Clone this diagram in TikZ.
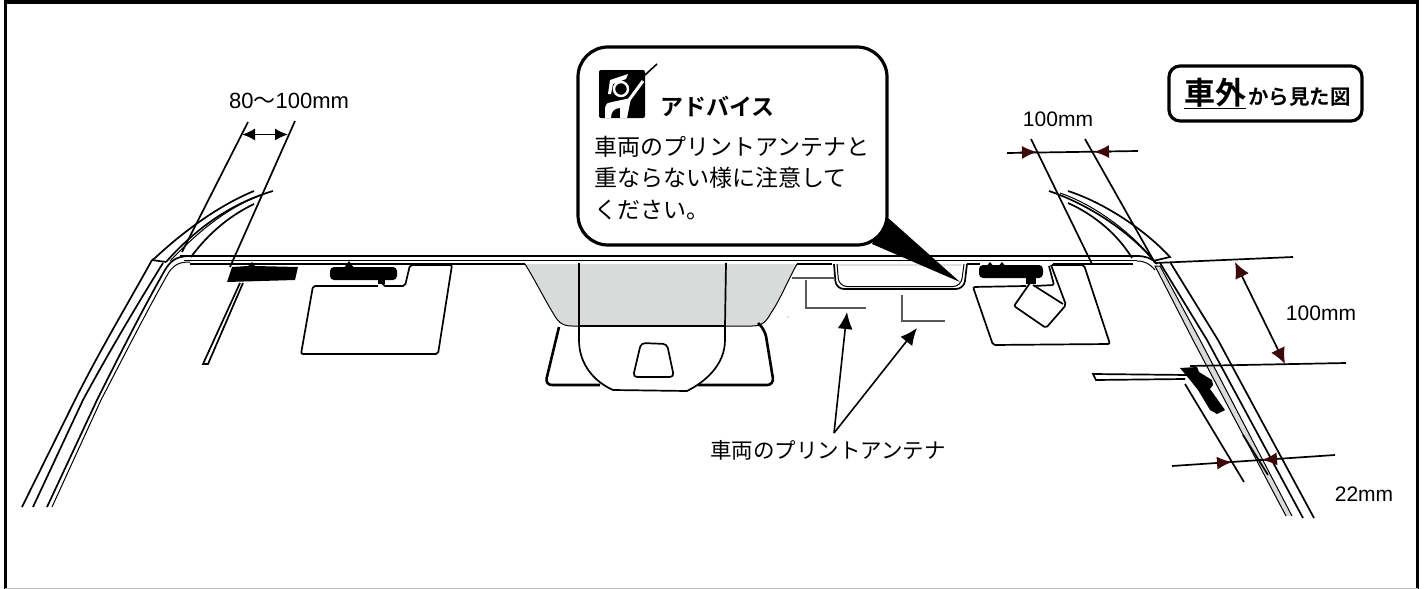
\documentclass[tikz,border=0pt]{standalone}
\usepackage{fontspec}
\setmainfont{Liberation Sans}
\newfontfamily\cjk[BoldFont={Noto Sans CJK JP Bold}]{Noto Sans CJK JP}
\usetikzlibrary{arrows.meta}
\definecolor{dimred}{RGB}{60,8,12}
\definecolor{glassgray}{RGB}{217,218,218}
\tikzset{
	glass/.style={line width=1.7pt,black},
	hairline/.style={line width=1pt,black},
	heavy/.style={line width=2.6pt,black},
	antenna/.style={line width=1.5pt,black!65},
	dimline/.style={line width=1.7pt,black},
	dimtip/.style={-{Latex[length=15pt,width=13pt,color=dimred]},line width=1.7pt},
	dimlabel/.style={font=\fontsize{21}{21}\selectfont,inner sep=0pt},
	bubble/.style={draw,line width=3.2pt,rounded corners=30pt,fill=white},
	tag/.style={draw,line width=3.2pt,rounded corners=11pt,fill=white}
}
\begin{document}
\begin{tikzpicture}[x=1pt,y=-1pt]
	\useasboundingbox (0,0) rectangle (1428,589);
	\fill[white] (0,0) rectangle (1428,589);
	% frame
	\draw[line width=3.4pt] (5.5,589) -- (5.5,2) -- (1417.5,2) -- (1417.5,589);
	\draw[line width=1pt,black!25] (5,588) -- (1418,588);

	% glass, roof edge
	\draw[glass] (180,256) -- (1137,256);
	\draw[hairline] (184,260) -- (1137,260);
	\draw[glass] (190,264) -- (525,264);
	\draw[glass] (1053,264) -- (1133,264);
	\draw[glass] (967,264) -- (980,264);

	% left pillar
	\draw[glass] (22,507) -- (75,400) .. controls (100,350) and (130,300) .. (152,260);
	\draw[glass] (33,507) -- (83,400) .. controls (110,350) and (140,300) .. (163,263);
	\draw[glass] (47,507) -- (97,400) .. controls (122,350) and (145,305) .. (165,270) .. controls (170,262) and (175,256) .. (190,256);
	\draw[hairline] (52,507) -- (101,400) .. controls (127,350) and (150,305) .. (169,272) .. controls (175,264) and (180,262) .. (190,262);
	% left visor
	\draw[glass] (152,260) -- (155,258) .. controls (185,230) and (220,205) .. (254,191);
	\draw[glass] (152,260) -- (166,262);
	\draw[glass] (166,262) .. controls (190,235) and (225,205) .. (273,191);
	\draw[hairline] (170,261) .. controls (195,235) and (225,208) .. (262,195);
	\draw[glass] (191,257) .. controls (205,238) and (225,218) .. (254,204);

	% right pillar
	\draw[glass] (1314,518) -- (1218,340) -- (1170,262);
	\draw[glass] (1303,518) -- (1207,340) -- (1160,263);
	\filldraw[hairline,fill=glassgray] (1286,516) -- (1193,340) -- (1155,266) -- (1160,266) -- (1200,340) -- (1292,516);
	\draw[glass] (1137,256) .. controls (1145,256) and (1152,258) .. (1157,264);
	\draw[hairline] (1137,261) .. controls (1145,261) and (1150,264) .. (1155,270);
	% right visor
	\draw[glass] (1068,191) .. controls (1105,203) and (1145,230) .. (1170,257) -- (1153,261);
	\draw[glass] (1049,191) .. controls (1090,205) and (1130,232) .. (1155,262);
	\draw[hairline] (1060,193) .. controls (1095,205) and (1130,232) .. (1152,258);
	\draw[glass] (1068,203) .. controls (1095,215) and (1118,235) .. (1132,258);

	% left sensor with strip
	\fill (227,282) -- (232,267) -- (248,266) -- (252,262) -- (255,266) -- (298,267) -- (295,280) -- cycle;
	\draw[glass] (240,283) -- (203,364) -- (208,364) -- (243,283);
	\draw[dimline] (248,122) -- (182,252);
	\draw[dimline] (295,121) -- (230,267);
	\coordinate (lefta) at (242,134.5);
	\coordinate (leftb) at (288,134.5);
	\draw[{Latex[length=13pt,width=12pt]}-{Latex[length=13pt,width=12pt]},line width=1.5pt] (lefta) -- (leftb);
	\node[dimlabel,font=\fontsize{22}{22}\selectfont] (leftlabel) at (289,101) {80{\cjk ～}100mm};

	% left mount and panel
	\fill[rounded corners=4pt] (330,267) rectangle (397,280);
	\fill (344,268) -- (349,261) -- (354,268) -- cycle;
	\fill (378,278) rectangle (385,284);
	\draw[glass,rounded corners=2pt] (378,286) -- (313,286) -- (301,354) -- (438,354) -- (452,265) -- (410,265) -- (405,286) -- (383,286) -- (382,280);

	% centre shape
	\filldraw[hairline,fill=glassgray] (525,264) .. controls (535,280) and (545,300) .. (553,313) .. controls (558,322) and (562,326) .. (572,326) -- (752,326) .. controls (762,326) and (766,322) .. (771,313) .. controls (780,300) and (788,280) .. (797,264);
	\draw[heavy,rounded corners=7pt] (559,327) -- (545,385) -- (600,385);
	\draw[heavy,rounded corners=7pt] (758,323) -- (765,330) -- (774,385) -- (698,385);
	\draw[glass,fill=white] (579,326) -- (579,340) .. controls (579,365) and (595,382) .. (613,390) -- (687,391) .. controls (705,382) and (725,365) .. (725,340) -- (725,326) -- cycle;
	\draw[glass] (579,263) -- (579,326);
	\draw[glass] (726,263) -- (725,326);
	\draw[glass,rounded corners=4pt] (641,343) -- (667,344) -- (674,377) -- (633,377) -- cycle;

	% notch with printed antennas
	\draw[glass] (797,264) -- (832,264);
	\fill[black!12] (837,264) rectangle (962,266);
	\draw[glass,rounded corners=8pt] (834,264) -- (836,289) -- (964,289) -- (967,264);
	\draw[hairline,rounded corners=8pt] (837,264) -- (839,286.5) -- (961,286.5) -- (964,264);
	\draw[antenna] (792,278) -- (835,278);
	\draw[antenna] (806,280) -- (806,308) -- (866,308);
	\draw[antenna] (902,295) -- (902,321) -- (945,321);
	\fill[black!50] (788,317) circle (0.7pt);
	\node[inner sep=0pt,font=\cjk\fontsize{21.5}{21.5}\selectfont] (printlabel) at (828,450) {車両のプリントアンテナ};
	\coordinate (printfrom) at (834,433);
	\coordinate (printa) at (847,312);
	\coordinate (printb) at (917,328);
	\draw[-{Latex[length=17pt,width=15pt]},line width=1.6pt] (printfrom) -- (printa);
	\draw[-{Latex[length=17pt,width=15pt]},line width=1.6pt] (printfrom) -- (printb);

	% right mount and panel
	\fill[rounded corners=4pt] (979,265) rectangle (1043,278);
	\fill (985,268) -- (990,262) -- (995,268) -- cycle;
	\fill (997,268) -- (1002,262) -- (1007,268) -- cycle;
	\fill (1026,276) rectangle (1036,284);
	\draw[glass,rounded corners=2pt] (1026,286) -- (973,287) -- (993,345) -- (1110,344) -- (1084,265) -- (1052,265);
	\draw[glass,rounded corners=2pt] (1049,266) -- (1054,285) -- (1034,286);
	\draw[glass,rounded corners=2pt] (1030,283) -- (1014,306) -- (1046,328) -- (1066,305) -- (1051,265);
	\draw[glass] (1033,285) -- (1063,304);
	\draw[dimline] (1031,139) -- (1092,264);
	\draw[dimline] (1085,139) -- (1155,263);
	\draw[dimline] (1007,153) -- (1138,151);
	\coordinate (topa) at (1037,152);
	\coordinate (topb) at (1094,152);
	\draw[dimtip] (1020,152.5) -- (topa);
	\draw[dimtip] (1111,151.5) -- (topb);
	\node[dimlabel] (toplabel) at (1058,119) {100mm};

	% right sensor with strip
	\fill (1180,368) -- (1197,367) -- (1199,372) -- (1212,380) -- (1213,385) -- (1210,389) -- (1225,410) -- (1217,414) -- (1210,410) -- (1198,390) -- (1190,380) -- cycle;
	\draw[glass] (1188,375) -- (1093,374) -- (1096,380) -- (1185,379);
	\draw[dimline] (1185,384) -- (1244,482);
	\draw[dimline] (1243,435) -- (1268,475);

	% right side dimensions
	\draw[dimline] (1155,263) -- (1293,257);
	\draw[dimline] (1190,366) -- (1346,363);
	\coordinate (sidea) at (1235,262);
	\coordinate (sideb) at (1285,364);
	\draw[{Latex[length=16pt,width=15pt,color=dimred]}-{Latex[length=16pt,width=15pt,color=dimred]},line width=1.7pt] (sidea) -- (sideb);
	\node[dimlabel] (sidelabel) at (1321,313) {100mm};
	\draw[dimline] (1172,466) -- (1335,455);
	\coordinate (lowa) at (1232,462);
	\coordinate (lowb) at (1262,460);
	\draw[dimtip] (1218,463) -- (lowa);
	\draw[dimtip] (1276,459) -- (lowb);
	\node[dimlabel] (lowlabel) at (1364,494) {22mm};

	% advice bubble
	\fill (887,217) -- (960,282) -- (872,244) -- cycle;
	\node[bubble,minimum width=309pt,minimum height=198pt] (advice) at (732.5,146) {};
	% advice icon
	\fill[rounded corners=2pt] (599,70) rectangle (645,118);
	\draw[line width=1.6pt] (645,75) -- (657,64);
	\draw[white,line width=3pt] (629,100) -- (643,81);
	\fill[white] (605,118) -- (605,108) .. controls (606,103) and (609,102) .. (612,102) -- (631,98) -- (627,118) -- (620,118) -- (620,108) .. controls (614,108) and (611,112) .. (611,118) -- cycle;
	\fill[white] (610,80) -- (628,74) -- (626,79) -- (613,84) -- (611,94) -- (608,94) -- cycle;
	\filldraw[draw=white,fill=black,line width=2.4pt] (621,89) circle (7pt);
	\node[inner sep=0pt,anchor=west,font=\cjk\bfseries\fontsize{23}{23}\selectfont] (advicetitle) at (660,106) {アドバイス};
	\node[inner sep=0pt,anchor=north west,align=left,font=\cjk\fontsize{23}{31.5}\selectfont] (advicetext) at (594,136) {車両のプリントアンテナと\\重ならない様に注意して\\ください。};

	% view tag
	\node[tag,minimum width=193pt,minimum height=55pt] (viewtag) at (1265.5,93.5) {};
	\node[inner sep=0pt,anchor=west,font=\cjk\bfseries\fontsize{31}{31}\selectfont] (viewcar) at (1184,93) {車外};
	\draw[line width=1.4pt] (viewcar.west |- 0,108.5) -- (viewcar.east |- 0,108.5);
	\node[inner sep=0pt,anchor=west,font=\cjk\bfseries\fontsize{20.5}{20.5}\selectfont] (viewrest) at (1248,97) {から見た図};
\end{tikzpicture}
\end{document}
